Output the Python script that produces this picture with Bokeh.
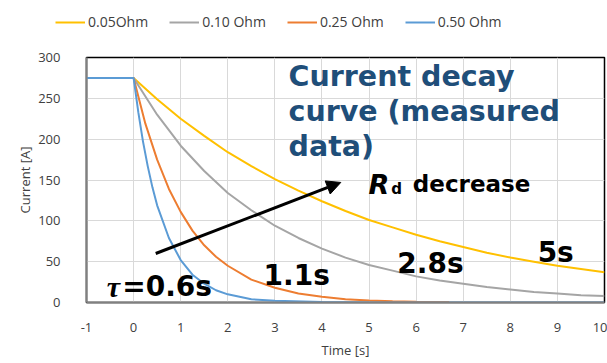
from bokeh.plotting import figure
from bokeh.layouts import column, row
from bokeh.models import Legend, LegendItem, Range1d, FixedTicker, Arrow, NormalHead
from bokeh.core.properties import value
from bokeh.embed import file_html
from bokeh.resources import INLINE

# ---- data ----
t_05 = [-1, 0, 0.5, 1, 1.5, 2, 2.5, 3, 3.5, 4, 4.5, 5, 5.5, 6, 6.5, 7, 7.5, 8, 8.5, 9, 9.5, 10]
i_05 = [275, 275, 249, 225, 204, 184, 167, 151, 137, 124, 112, 101, 92, 83, 75, 68, 61, 55, 50, 45, 41, 37]

t_10 = [-1, 0, 0.5, 1, 1.5, 2, 2.5, 3, 3.5, 4, 4.5, 5, 5.5, 6, 6.5, 7, 7.5, 8, 8.5, 9, 9.5, 10]
i_10 = [275, 275, 230, 192, 161, 134, 113, 94, 79, 66, 55, 46, 39, 32, 27, 23, 19, 16, 13, 11, 9, 8]

t_25 = [-1, 0, 0.25, 0.5, 0.75, 1, 1.25, 1.5, 1.75, 2, 2.5, 3, 3.5, 4, 4.5, 5, 5.5, 6, 6.7]
i_25 = [275, 275, 219, 175, 139, 111, 88, 70, 56, 45, 28, 18, 11, 7, 4, 2.5, 1.5, 1, 0.5]

t_50 = [-1, 0, 0.1, 0.2, 0.3, 0.4, 0.5, 0.75, 1, 1.25, 1.5, 1.75, 2, 2.5, 3, 4, 5, 10]
i_50 = [275, 275, 233, 197, 167, 141, 119, 79, 52, 34, 23, 15, 10, 4, 2, 0.5, 0, 0]

series_labels = ["0.05Ohm", "0.10 Ohm", "0.25 Ohm", "0.50 Ohm"]
series_colors = ["#FFC000", "#A5A5A5", "#ED7D31", "#5B9BD5"]
x_ticks = list(range(-1, 11))
y_ticks = [0, 50, 100, 150, 200, 250, 300]
tau_labels = ["1.1s", "2.8s", "5s"]

all_t = [t_05, t_10, t_25, t_50]
all_i = [i_05, i_10, i_25, i_50]

p = figure(width=607, height=323, output_backend="svg", toolbar_location=None,
           x_range=Range1d(-1, 10), y_range=Range1d(0, 300),
           min_border_left=86, min_border_right=3, min_border_top=17, min_border_bottom=61)
p.background_fill_color = "white"
p.border_fill_color = "white"
p.outline_line_color = "black"
p.outline_line_width = 1.5

# grid
p.xgrid.ticker = FixedTicker(ticks=x_ticks)
p.ygrid.ticker = FixedTicker(ticks=y_ticks)
p.xgrid.grid_line_color = "#D9D9D9"
p.ygrid.grid_line_color = "#D9D9D9"

# axes
for ax in (p.xaxis[0], p.yaxis[0]):
    ax.axis_line_color = "#808080"
    ax.axis_line_width = 2
    ax.major_tick_line_color = None
    ax.minor_tick_line_color = None
    ax.major_label_text_font = "Open Sans"
    ax.major_label_text_font_size = "13px"
    ax.major_label_text_color = "#404040"
    ax.axis_label_text_font = "Open Sans"
    ax.axis_label_text_font_size = "13px"
    ax.axis_label_text_font_style = "normal"
    ax.axis_label_text_color = "#404040"
p.xaxis.ticker = FixedTicker(ticks=x_ticks)
p.xaxis.major_label_overrides = {-1: "-1"}
p.yaxis.ticker = FixedTicker(ticks=y_ticks)
p.xaxis.axis_label = "Time [s]"
p.yaxis.axis_label = "Current [A]"
p.xaxis.major_label_standoff = 14
p.yaxis.major_label_standoff = 20
p.xaxis.axis_label_standoff = 6
p.yaxis.axis_label_standoff = 1

for t, i, c in zip(all_t, all_i, series_colors):
    p.line(t, i, line_color=c, line_width=2)

# legend strip on top (separate small figure so it can sit outside the plot frame);
# the same series are drawn there but kept out of its visible range
lg = figure(width=607, height=40, output_backend="svg", toolbar_location=None,
            x_axis_location=None, y_axis_location=None,
            x_range=Range1d(-1, 10), y_range=Range1d(1000, 1001),
            min_border_left=0, min_border_right=0, min_border_top=0, min_border_bottom=0)
lg.outline_line_color = None
lg.xgrid.visible = False
lg.ygrid.visible = False
lg_renderers = [lg.line(t, i, line_color=c, line_width=2) for t, i, c in zip(all_t, all_i, series_colors)]
legend = Legend(items=[LegendItem(label=l, renderers=[r]) for l, r in zip(series_labels, lg_renderers)],
                orientation="horizontal", location=(55, 9),
                label_text_font="Open Sans", label_text_font_size="14px", label_text_color="#404040",
                glyph_width=30, glyph_height=14, spacing=21, label_standoff=3,
                border_line_color=None, background_fill_alpha=0, padding=0, margin=0)
lg.add_layout(legend, "center")

# title annotation
title_lines = ["Current decay", "curve (measured", "data)"]
p.text(x=[3.29, 3.29, 3.29], y=[276.5, 233.5, 191], text=title_lines,
       text_font=value("DejaVu Sans"), text_font_style="bold", text_font_size="28.5px",
       text_color="#1F4E79", text_align="left", text_baseline="alphabetic")

# arrow
p.add_layout(Arrow(x_start=0.47, y_start=60, x_end=4.4, y_end=147, line_width=3, line_color="black",
                   end=NormalHead(size=14, fill_color="black", line_color="black")))

# R_d decrease
p.text(x=[4.99], y=[145], text=["R"], text_font=value("DejaVu Sans"), text_font_style="bold italic",
       text_font_size="27px", text_color="black", text_baseline="alphabetic")
p.text(x=[5.47], y=[139], text=["d"], text_font=value("DejaVu Sans"), text_font_style="bold",
       text_font_size="15px", text_color="black", text_baseline="alphabetic")
p.text(x=[5.93], y=[144.5], text=["decrease"], text_font=value("DejaVu Sans"), text_font_style="bold",
       text_font_size="23px", text_color="black", text_baseline="alphabetic")

# tau labels
p.text(x=[-0.57], y=[20], text=["τ"], text_font=value("Liberation Serif"), text_font_style="bold italic",
       text_font_size="30px", text_color="black", text_baseline="alphabetic")
p.text(x=[-0.24], y=[20], text=["=0.6s"], text_font=value("DejaVu Sans"), text_font_style="bold",
       text_font_size="28px", text_color="black", text_baseline="alphabetic")
p.text(x=[2.76, 5.6, 8.58], y=[33, 47.5, 61], text=tau_labels, text_font=value("DejaVu Sans"),
       text_font_style="bold", text_font_size="28px", text_color="black", text_baseline="alphabetic")

open("out.html", "w").write(file_html(column(row(lg), p, spacing=0), INLINE))
